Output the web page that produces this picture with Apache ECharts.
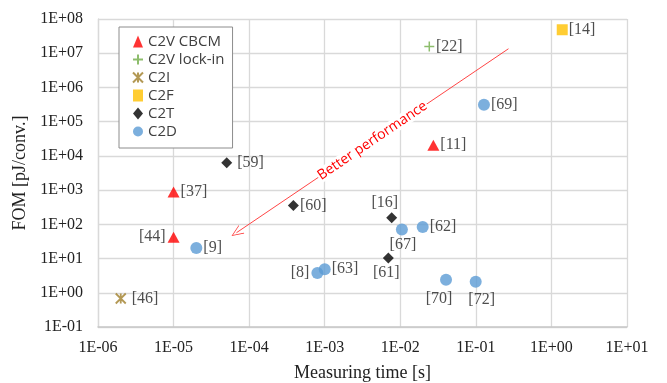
<!DOCTYPE html>
<html><head><meta charset="utf-8">
<script src="https://cdn.jsdelivr.net/npm/echarts@6/dist/echarts.min.js"></script>
<style>html,body{margin:0;padding:0;background:#fff}#c{width:667px;height:383px}</style>
</head><body><div id="c"></div>
<script>
// ---- data ----
const xTickLabels = ['1E-06','1E-05','1E-04','1E-03','1E-02','1E-01','1E+00','1E+01'];
const yTickLabels = ['1E-01','1E+00','1E+01','1E+02','1E+03','1E+04','1E+05','1E+06','1E+07','1E+08'];
const seriesNames = ['C2V CBCM','C2V lock-in','C2I','C2F','C2T','C2D'];

const cbcmTime = [1.0e-5, 1.0e-5, 0.0274];
const cbcmFom  = [880, 42, 20400];
const cbcmRefs = ['[37]','[44]','[11]'];

const lockinTime = [0.0242];
const lockinFom  = [1.58e7];
const lockinRefs = ['[22]'];

const c2iTime = [2.0e-6];
const c2iFom  = [0.68];
const c2iRefs = ['[46]'];

const c2fTime = [1.39];
const c2fFom  = [4.85e7];
const c2fRefs = ['[14]'];

const c2tTime = [5.05e-5, 3.85e-4, 7.7e-3, 6.95e-3];
const c2tFom  = [6300, 358, 157, 10.4];
const c2tRefs = ['[59]','[60]','[16]','[61]'];

const c2dTime = [2.0e-5, 8.0e-4, 1.0e-3, 0.0105, 0.0198, 0.0403, 0.0995, 0.128];
const c2dFom  = [20.3, 3.8, 4.9, 71, 83, 2.4, 2.1, 3.1e5];
const c2dRefs = ['[9]','[8]','[63]','[67]','[62]','[70]','[72]','[69]'];

const arrowTail = [0.27, 1.35e7];
const arrowHead = [6.8e-5, 57];
const arrowText = 'Better performance';
const xTitle = 'Measuring time [s]';
const yTitle = 'FOM [pJ/conv.]';

// ---- styles ----
const labelPlace = {
  '[44]': {position:'left', distance:2},
  '[8]':  {position:'left', distance:2},
  '[16]': {position:'top', distance:1, offset:[-7,0]},
  '[61]': {position:'bottom', distance:1, offset:[-2,0]},
  '[67]': {position:'bottom', distance:1, offset:[1,0]},
  '[70]': {position:'bottom', distance:5, offset:[-7,0]},
  '[72]': {position:'bottom', distance:4, offset:[6,0]},
  '[46]': {position:'right', distance:5},
  '[59]': {position:'right', distance:5}
};
const serif = 'Liberation Serif';
const textColor = '#222222';

function makeSeries(name, xs, ys, refs, symbol, size, itemStyle) {
  return {
    name: name, type: 'scatter', symbol: symbol, symbolSize: size,
    itemStyle: itemStyle,
    data: xs.map((x, i) => ({
      value: [x, ys[i]], name: refs[i],
      label: Object.assign({position:'right', distance:1}, labelPlace[refs[i]] || {})
    })),
    label: {show:true, formatter:'{b}', fontFamily:serif, fontSize:16, color:textColor},
    emphasis: {disabled:true}
  };
}

const plusPath = 'path://M5,0 L5,10 M0,5 L10,5';
const starPath = 'path://M0,0 L10,10 M10,0 L0,10 M5,0 L5,10';
const chevron = 'path://M0,12 L5,0 L10,12 L9.2,12 L5,1.8 L0.8,12 Z';

function fmt(labels, first) {
  return function (v) {
    const e = Math.round(Math.log10(v));
    return labels[e - first] || '';
  };
}

const chart = echarts.init(document.getElementById('c'), null, {renderer:'canvas'});
chart.setOption({
  animation: false,
  backgroundColor: '#ffffff',
  grid: {left: 98, right: 40, top: 19, bottom: 56, containLabel: false, outerBoundsMode: 'none'},
  legend: {
    data: seriesNames, orient: 'vertical', left: 119, top: 27,
    itemWidth: 10, itemHeight: 12, itemGap: 3,
    padding: [7, 8, 9, 13],
    backgroundColor: '#ffffff', borderColor: '#8c8c8c', borderWidth: 1,
    textStyle: {fontFamily: 'Open Sans', fontSize: 15, color: '#404040'},
    selectedMode: false
  },
  xAxis: {
    type: 'log', logBase: 10, min: 1e-6, max: 10, splitNumber: 7,
    name: xTitle, nameLocation: 'middle', nameGap: 37,
    nameTextStyle: {fontFamily: serif, fontSize: 18, color: textColor},
    axisLine: {lineStyle: {color: '#c8c8c8', width: 1.5}},
    axisTick: {show: false},
    splitLine: {show: true, lineStyle: {color: '#d9d9d9', width: 1.3}},
    axisLabel: {formatter: fmt(xTickLabels, -6), fontFamily: serif, fontSize: 16, color: textColor, margin: 13}
  },
  yAxis: {
    type: 'log', logBase: 10, min: 0.1, max: 1e8, splitNumber: 9,
    name: yTitle, nameLocation: 'middle', nameGap: 59, nameRotate: 90,
    nameTextStyle: {fontFamily: serif, fontSize: 18, color: textColor},
    axisLine: {show: true, lineStyle: {color: '#d9d9d9', width: 1.3}},
    axisTick: {show: false},
    splitLine: {show: true, lineStyle: {color: '#d9d9d9', width: 1.3}},
    axisLabel: {formatter: fmt(yTickLabels, -1), fontFamily: serif, fontSize: 16, color: textColor, margin: 15}
  },
  series: [
    makeSeries(seriesNames[0], cbcmTime, cbcmFom, cbcmRefs, 'triangle', [12, 11], {color: '#FF0000'}),
    makeSeries(seriesNames[1], lockinTime, lockinFom, lockinRefs, plusPath, 10, {color: 'rgba(0,0,0,0)', borderColor: '#70AD47', borderWidth: 1.5}),
    makeSeries(seriesNames[2], c2iTime, c2iFom, c2iRefs, starPath, 10, {color: 'rgba(0,0,0,0)', borderColor: '#A07F2A', borderWidth: 1.8}),
    makeSeries(seriesNames[3], c2fTime, c2fFom, c2fRefs, 'rect', 11, {color: '#FFC000'}),
    makeSeries(seriesNames[4], c2tTime, c2tFom, c2tRefs, 'diamond', 11, {color: '#000000'}),
    makeSeries(seriesNames[5], c2dTime, c2dFom, c2dRefs, 'circle', 12, {color: '#5B9BD5'}),
    {
      name: 'arrow', type: 'scatter', data: [], silent: true,
      markLine: {
        silent: true, animation: false,
        symbol: ['none', chevron], symbolSize: [10, 12],
        lineStyle: {color: '#FF3030', width: 0.9, type: 'solid'},
        label: {show: true, position: 'insideMiddle', distance: 0, formatter: arrowText,
                color: '#FF0000', fontFamily: 'Open Sans', fontSize: 14,
                backgroundColor: '#ffffff', padding: [0, 1]},
        emphasis: {disabled: true},
        data: [[{coord: arrowTail}, {coord: arrowHead}]]
      }
    }
  ]
});
</script>
</body></html>
